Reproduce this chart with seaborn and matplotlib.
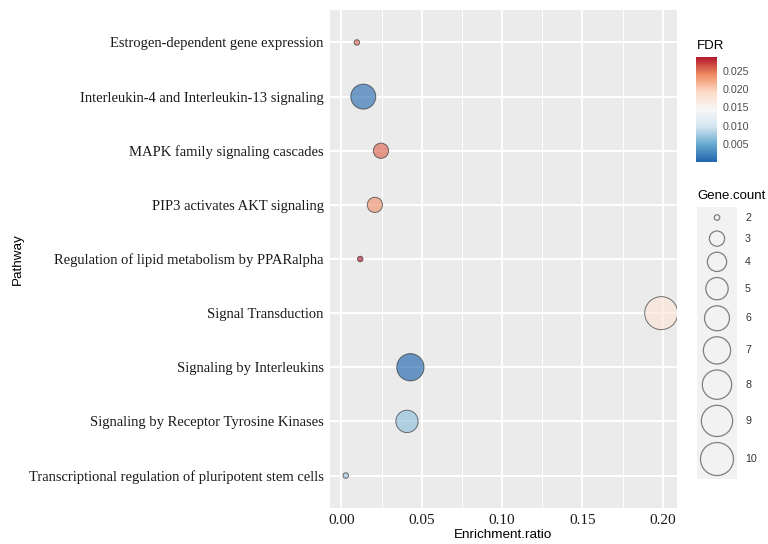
import numpy as np
import pandas as pd
import matplotlib
matplotlib.use("Agg")
import matplotlib.pyplot as plt
from matplotlib.colors import LinearSegmentedColormap, Normalize
from matplotlib.cm import ScalarMappable
from matplotlib.ticker import MultipleLocator
import seaborn as sns

# ---------------- data ----------------
pathways = [
    "Estrogen-dependent gene expression",
    "Interleukin-4 and Interleukin-13 signaling",
    "MAPK family signaling cascades",
    "PIP3 activates AKT signaling",
    "Regulation of lipid metabolism by PPARalpha",
    "Signal Transduction",
    "Signaling by Interleukins",
    "Signaling by Receptor Tyrosine Kinases",
    "Transcriptional regulation of pluripotent stem cells",
]
enrichment_ratio = [0.0096, 0.0136, 0.0246, 0.0208, 0.0117, 0.1990, 0.0429, 0.0408, 0.0027]
fdr = [0.0255, 0.0008, 0.0255, 0.0235, 0.0288, 0.0175, 0.0001, 0.0068, 0.0072]
gene_count = [2, 6, 3, 3, 2, 10, 7, 5, 2]

x_ticks = [0.00, 0.05, 0.10, 0.15, 0.20]
fdr_ticks = [0.005, 0.010, 0.015, 0.020, 0.025]
count_levels = [2, 3, 4, 5, 6, 7, 8, 9, 10]

df = pd.DataFrame({
    "Pathway": pathways,
    "Enrichment.ratio": enrichment_ratio,
    "FDR": fdr,
    "Gene.count": gene_count,
})

# ---------------- styling ----------------
W, H = 768, 544
PX2PT = 72 / 100.0

sns.set_style("darkgrid", {"axes.facecolor": "#EBEBEB", "grid.color": "white"})
plt.rcParams["font.family"] = ["Liberation Sans", "DejaVu Sans"]

cmap = LinearSegmentedColormap.from_list(
    "rdbu_gg", ["#2166AC", "#67A9CF", "#D1E5F0", "#F7F7F7", "#FDDBC7", "#EF8A62", "#B2182B"])
norm = Normalize(vmin=min(fdr), vmax=max(fdr))

cmin, cmax = min(count_levels), max(count_levels)
def diam_px(c):
    return 5.5 * (1 + 5 * np.sqrt((c - cmin) / (cmax - cmin)))
sizes = {c: (diam_px(c) * PX2PT) ** 2 for c in count_levels}

fig = plt.figure(figsize=(W / 100, H / 100), dpi=100)
ax = fig.add_axes([330 / W, 1 - 508 / H, 347 / W, 498 / H])
ax.set_facecolor("#EBEBEB")

sns.scatterplot(
    data=df, x="Enrichment.ratio", y="Pathway", hue="FDR", size="Gene.count",
    palette=cmap, hue_norm=norm, sizes=sizes, alpha=0.65,
    edgecolor="#2a2a2a", linewidth=0.7, legend=False, ax=ax, zorder=3,
)

# axis ranges (ggplot-like expansion)
xr = max(enrichment_ratio) - min(enrichment_ratio)
ax.set_xlim(min(enrichment_ratio) - 0.05 * xr, max(enrichment_ratio) + 0.05 * xr)
ax.set_ylim(len(pathways) - 0.4, -0.6)

ax.set_xticks(x_ticks)
ax.set_xticklabels(["%.2f" % v for v in x_ticks])
ax.xaxis.set_minor_locator(MultipleLocator(0.025))
ax.grid(which="major", color="white", linewidth=1.4)
ax.grid(which="minor", axis="x", color="white", linewidth=0.7)
ax.grid(which="minor", axis="y", visible=False)
ax.set_axisbelow(True)
for s in ax.spines.values():
    s.set_visible(False)

ax.tick_params(axis="both", which="major", length=2.5, width=0.8, color="#333333",
               labelsize=10.5, labelcolor="#1a1a1a", pad=2)
ax.tick_params(axis="both", which="minor", length=0)
for lab in ax.get_xticklabels() + ax.get_yticklabels():
    lab.set_family(["Liberation Serif", "DejaVu Serif"])
for lab in ax.get_xticklabels():
    lab.set_fontsize(11)

ax.set_xlabel("Enrichment.ratio", fontsize=9.7, color="black", labelpad=1)
ax.set_ylabel("")
fig.text(18 / W, 1 - 259 / H, "Pathway", rotation=90, va="center", ha="center",
         fontsize=9.7, color="black")

# ---------------- colour bar legend ----------------
fig.text(697 / W, 1 - 46 / H, "FDR", va="center", ha="left", fontsize=9.5, color="black")
cax = fig.add_axes([696 / W, 1 - 162 / H, 21 / W, 105 / H])
cb = fig.colorbar(ScalarMappable(norm=norm, cmap=cmap), cax=cax, ticks=fdr_ticks)
cb.outline.set_visible(False)
cb.ax.set_yticklabels(["%.3f" % t for t in fdr_ticks])
cax.tick_params(axis="y", which="major", direction="in", length=4, width=0.8,
                color="white", left=True, right=True, labelleft=False, labelright=True,
                labelsize=7.7, labelcolor="#4d4d4d", pad=4)
cax.tick_params(axis="y", which="minor", length=0)

# ---------------- size legend ----------------
fig.text(697 / W, 1 - 196 / H, "Gene.count", va="center", ha="left", fontsize=9.5, color="black")
key_h = [max(21.0, diam_px(c) + 6.0) for c in count_levels]
top = 207.0
total = sum(key_h)
lax = fig.add_axes([697 / W, 1 - (top + total) / H, 40 / W, total / H])
lax.set_xlim(0, 40)
lax.set_ylim(total, 0)
lax.set_facecolor("#F2F2F2")
lax.set_xticks([])
lax.set_yticks([])
for s in lax.spines.values():
    s.set_visible(False)
lax.grid(False)
centers = np.cumsum(key_h) - np.array(key_h) / 2
lax.scatter([20] * len(count_levels), centers, s=[sizes[c] for c in count_levels],
            facecolor="none", edgecolor="#7f7f7f", linewidth=0.9, clip_on=False)
for c, yc in zip(count_levels, centers):
    fig.text(745 / W, 1 - (top + yc) / H, str(c), va="center", ha="left",
             fontsize=7.7, color="#333333")

fig.savefig("out.png", dpi=100)
